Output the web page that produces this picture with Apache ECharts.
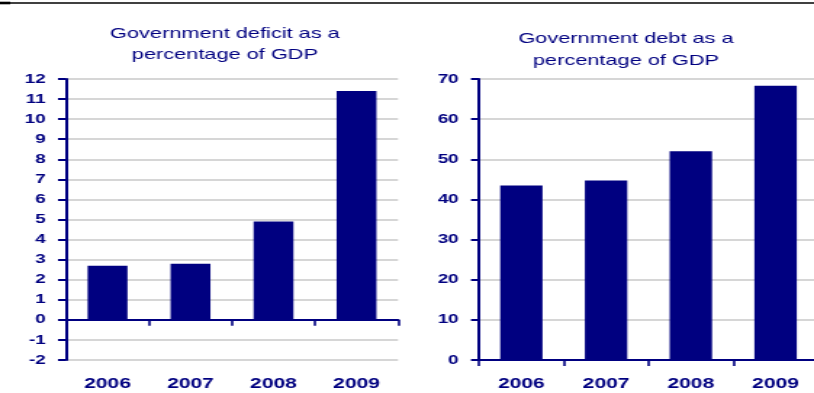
<!DOCTYPE html>
<html><head><meta charset="utf-8">
<script src="https://cdn.jsdelivr.net/npm/echarts@6/dist/echarts.min.js"></script>
<style>
html,body{margin:0;padding:0;background:#fff;overflow:hidden}
#wrap{width:814px;height:393px;overflow:hidden;position:relative}
#c{width:561px;height:393px;transform:scaleX(1.451);transform-origin:0 0}
</style>
</head><body><div id="wrap"><div id="c"></div></div>
<script>
const years = ['2006', '2007', '2008', '2009'];
const deficit = [2.7, 2.8, 4.9, 11.4];
const debt = [43.5, 44.7, 52.0, 68.3];
const deficitAxis = [-2, 12, 1];   // min, max, step
const debtAxis = [0, 70, 10];
const titles = ['Government deficit as a\npercentage of GDP', 'Government debt as a\npercentage of GDP'];

const NAVY = '#000080';
const FONT = '"Liberation Sans", Arial, sans-serif';

function yAx(gi, r) {
  return {
    type: 'value', gridIndex: gi, min: r[0], max: r[1], interval: r[2],
    axisLine: {show: true, lineStyle: {color: NAVY, width: 2}},
    axisTick: {show: true, length: 5.5, lineStyle: {color: NAVY, width: 2}},
    axisLabel: {color: NAVY, fontFamily: FONT, fontSize: 13, fontWeight: 'bold', margin: 14},
    splitLine: {show: true, lineStyle: {color: '#c8c8c8', width: 1.5}}
  };
}
const labelStyle = {color: NAVY, fontFamily: FONT, fontSize: 14.5, fontWeight: 'bold'};
function xAx(gi, showLabel, margin) {
  return {
    type: 'category', gridIndex: gi, data: years, position: 'bottom',
    axisLine: {show: true, onZero: true, lineStyle: {color: NAVY, width: 2}},
    axisTick: {show: true, length: 6, lineStyle: {color: NAVY, width: 1.6}},
    axisLabel: Object.assign({show: showLabel, margin: margin}, labelStyle),
    splitLine: {show: false}
  };
}

const chart = echarts.init(document.getElementById('c'), null, {renderer: 'canvas'});
chart.setOption({
  animation: false,
  backgroundColor: '#fff',
  title: [
    {text: titles[0], left: 155, top: 23, textAlign: 'center', padding: 0,
     textStyle: {color: NAVY, fontFamily: FONT, fontSize: 15, fontWeight: 'normal', lineHeight: 21}},
    {text: titles[1], left: 431.4, top: 28, textAlign: 'center', padding: 0,
     textStyle: {color: NAVY, fontFamily: FONT, fontSize: 15, fontWeight: 'normal', lineHeight: 22}}
  ],
  graphic: [
    {type: 'line', shape: {x1: 0, y1: 3, x2: 561, y2: 3}, style: {stroke: '#000', lineWidth: 1.4}},
    {type: 'line', shape: {x1: 0, y1: 3, x2: 7, y2: 3}, style: {stroke: '#000', lineWidth: 2.6}}
  ],
  grid: [
    {left: 45.5, top: 79, width: 228.8, height: 281, containLabel: false, outerBoundsMode: 'none'},
    {left: 330.1, top: 79, width: 233.6, height: 281, containLabel: false, outerBoundsMode: 'none'}
  ],
  xAxis: [
    xAx(0, false, 8),
    xAx(1, true, 16),
    {
      type: 'category', gridIndex: 0, data: years, position: 'bottom',
      axisLine: {show: false, onZero: false},
      axisTick: {show: false},
      axisLabel: Object.assign({show: true, margin: 16}, labelStyle),
      splitLine: {show: false}
    }
  ],
  yAxis: [yAx(0, deficitAxis), yAx(1, debtAxis)],
  series: [
    {type: 'bar', xAxisIndex: 0, yAxisIndex: 0, data: deficit, barWidth: '48%',
     itemStyle: {color: NAVY}},
    {type: 'bar', xAxisIndex: 1, yAxisIndex: 1, data: debt, barWidth: '50%',
     itemStyle: {color: NAVY}}
  ]
});
</script>
</body></html>
